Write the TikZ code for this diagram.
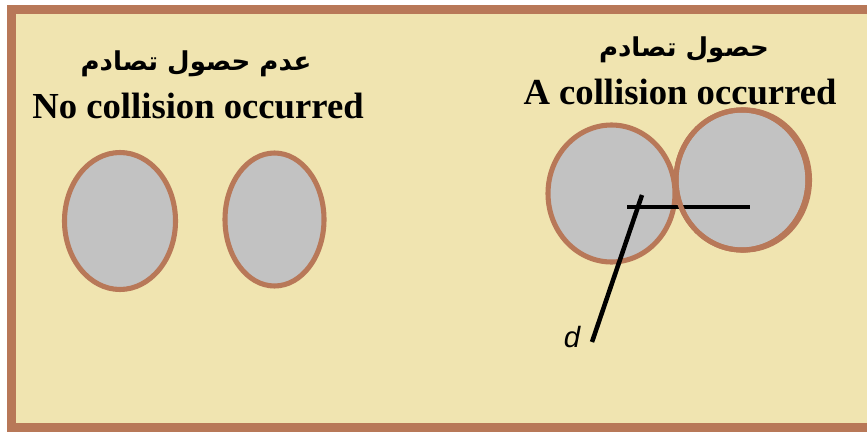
\documentclass[tikz,border=0pt]{standalone}
\usepackage{fontspec}
\setmainfont{Liberation Serif}
\newfontfamily\arabicfont[Script=Arabic]{DejaVu Sans}
\newfontfamily\dfont{Liberation Sans}
\TeXXeTstate=1
\definecolor{bgbeige}{RGB}{240,228,176}
\definecolor{framebrown}{RGB}{184,120,88}
\definecolor{ballgray}{RGB}{194,194,194}
\tikzset{
  ball/.style={draw=framebrown, fill=ballgray, line width=3.8pt},
  rod/.style={draw=black, line width=3.4pt},
  entitle/.style={font=\fontsize{27.5}{30}\selectfont\bfseries, inner sep=0pt},
  artitle/.style={font=\arabicfont\bfseries\fontsize{19.5}{22}\selectfont, inner sep=0pt},
}
\begin{document}
\begin{tikzpicture}[x=0.75pt,y=-0.75pt]
\useasboundingbox (0,0) rectangle (867,432);
\clip (0,0) rectangle (867,432);
\fill[white] (0,0) rectangle (867,432);
\fill[bgbeige] (7,5) rectangle (867,432);
\draw[framebrown, line width=6.8pt] (11.5,427.5) -- (11.5,9.5) -- (880,9.5);
\draw[framebrown, line width=6.8pt] (7,427.5) -- (880,427.5);

% left panel
\node[artitle] (ar1) at (196,64) {\beginR عدم حصول تصادم\endR};
\node[entitle] (en1) at (198,106) {No collision occurred};
\draw[ball] (120,221) ellipse [x radius=55.5, y radius=68.5];
\draw[ball] (274.5,219.5) ellipse [x radius=49.5, y radius=66.5];

% right panel
\node[artitle] (ar2) at (684,50) {\beginR حصول تصادم\endR};
\node[entitle] (en2) at (680,92) {A collision occurred};
\draw[ball] (611.5,193.5) ellipse [x radius=63.5, y radius=68.5];
\draw[framebrown, line width=3.8pt] (744.5,180) ellipse [x radius=65, y radius=70];
\draw[ball] (742,180) ellipse [x radius=66, y radius=70];

\coordinate (hstart) at (627,207);
\coordinate (hend) at (750,207);
\coordinate (dtop) at (642,195);
\coordinate (dbot) at (592,342);
\draw[rod] (hstart) -- (hend);
\draw[rod] (dtop) -- (dbot);
\draw[framebrown, line width=3.8pt] (742,180) ellipse [x radius=66, y radius=70];
\node[font=\dfont\itshape\fontsize{22}{24}\selectfont, inner sep=0pt] (dlab) at (572,337) {d};
\end{tikzpicture}
\end{document}
